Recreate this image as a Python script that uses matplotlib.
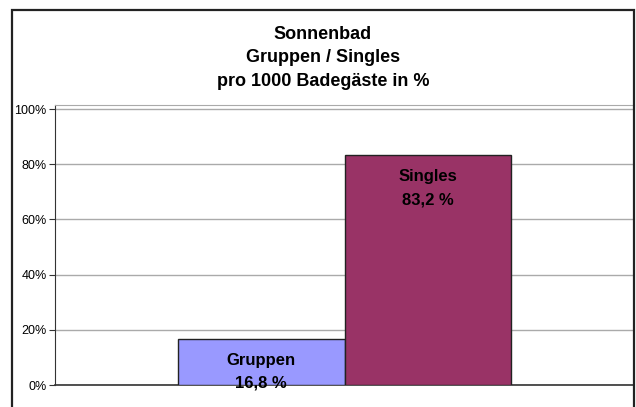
import matplotlib.pyplot as plt
from matplotlib.patches import Rectangle
from matplotlib.ticker import FuncFormatter

plt.rcParams['font.family'] = ['Liberation Sans', 'DejaVu Sans']

categories = ["Gruppen", "Singles"]
values = [16.8, 83.2]
labels = ["16,8 %", "83,2 %"]
colors = ["#9999FF", "#993366"]
yticks = [0, 20, 40, 60, 80, 100]

W, H = 636, 407
fig = plt.figure(figsize=(W / 100, H / 100), dpi=100)

# Rahmen um das ganze Diagramm
fig.patches.append(Rectangle((12 / W, -0.05), 622 / W, 1.05 - 10 / H,
                             transform=fig.transFigure, fill=False,
                             edgecolor="#222222", linewidth=1.6, zorder=0))

ax = fig.add_axes([55 / W, 22 / H, 579 / W, 280 / H])
ax.set_ylim(0, 101.45)
ax.set_xlim(-0.5, 0.5)

w = 0.288
for i, (cat, v) in enumerate(zip(categories, values)):
    x = (i - 0.5) * w
    ax.bar(x, v, width=w, color=colors[i], edgecolor="#222222", linewidth=1, zorder=3)
    ax.annotate(cat + "\n" + labels[i], (x, v), xytext=(0, -10), textcoords="offset points",
                ha="center", va="top", fontsize=12, fontweight="bold",
                linespacing=1.68, zorder=4)

ax.set_yticks(yticks)
ax.yaxis.set_major_formatter(FuncFormatter(lambda v, p: "%d%%" % v))
ax.tick_params(axis="y", labelsize=9, length=4, width=0.8, color="#333333", pad=2)
ax.set_xticks([])
ax.grid(axis="y", color="#aaaaaa", linewidth=1, zorder=0)

ax.spines["left"].set_color("#333333")
ax.spines["bottom"].set_color("#333333")
ax.spines["bottom"].set_linewidth(1.2)
ax.spines["top"].set_color("#aaaaaa")
ax.spines["right"].set_visible(False)

fig.text(323 / W, 1 - 58 / H, "Sonnenbad\nGruppen / Singles\npro 1000 Badegäste in %",
         ha="center", va="center", fontsize=13, fontweight="bold", linespacing=1.5)

fig.savefig("out.png", dpi=100)
